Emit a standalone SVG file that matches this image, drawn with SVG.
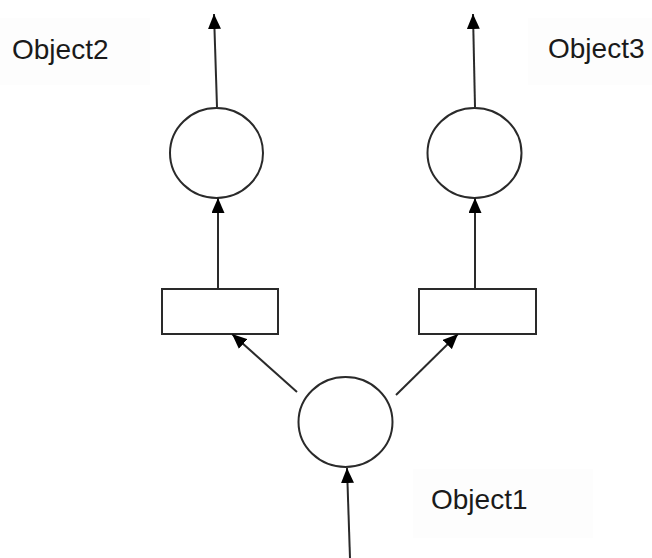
<svg xmlns="http://www.w3.org/2000/svg" width="652" height="558" viewBox="0 0 652 558">
<style>
.n{fill:#ffffff;stroke:#2a2a2a;stroke-width:2}
.e{stroke:#2a2a2a;stroke-width:2;fill:none;marker-end:url(#ah)}
.t{font-family:"Liberation Sans",Arial,sans-serif;font-size:28px;fill:#1a1a1a}
.lb{fill:#fdfdfd;stroke:none}
</style>
<defs>
<marker id="ah" viewBox="0 0 15 13" refX="15" refY="6.5" markerWidth="15" markerHeight="13" markerUnits="userSpaceOnUse" orient="auto">
<path d="M0,0 L15,6.5 L0,13 z" fill="#000"/>
</marker>
</defs>
<rect width="652" height="558" fill="#ffffff"/>
<g id="label-object2"><rect class="lb" x="0" y="18" width="150" height="67"/><text class="t" x="12" y="59">Object2</text></g>
<g id="label-object3"><rect class="lb" x="528" y="18" width="124" height="67"/><text class="t" x="548" y="58">Object3</text></g>
<g id="label-object1"><rect class="lb" x="413" y="469" width="180" height="69"/><text class="t" x="431" y="509">Object1</text></g>
<g id="circle-top-left"><ellipse class="n" cx="216.5" cy="153" rx="46.5" ry="45"/></g>
<g id="circle-top-right"><ellipse class="n" cx="474.5" cy="153" rx="47" ry="45"/></g>
<g id="rect-left"><rect class="n" x="162" y="289" width="116" height="45"/></g>
<g id="rect-right"><rect class="n" x="419" y="289" width="117" height="45"/></g>
<g id="circle-bottom"><ellipse class="n" cx="345.5" cy="422" rx="47" ry="45"/></g>
<g id="connectors">
<line class="e" x1="217" y1="107" x2="214" y2="14"/>
<line class="e" x1="475" y1="107" x2="473" y2="14"/>
<line class="e" x1="218" y1="289" x2="218" y2="198"/>
<line class="e" x1="475" y1="289" x2="475" y2="198"/>
<line class="e" x1="297" y1="392" x2="232" y2="334"/>
<line class="e" x1="396" y1="395" x2="458" y2="334"/>
<line class="e" x1="350" y1="558" x2="347" y2="468"/>
</g>
</svg>
